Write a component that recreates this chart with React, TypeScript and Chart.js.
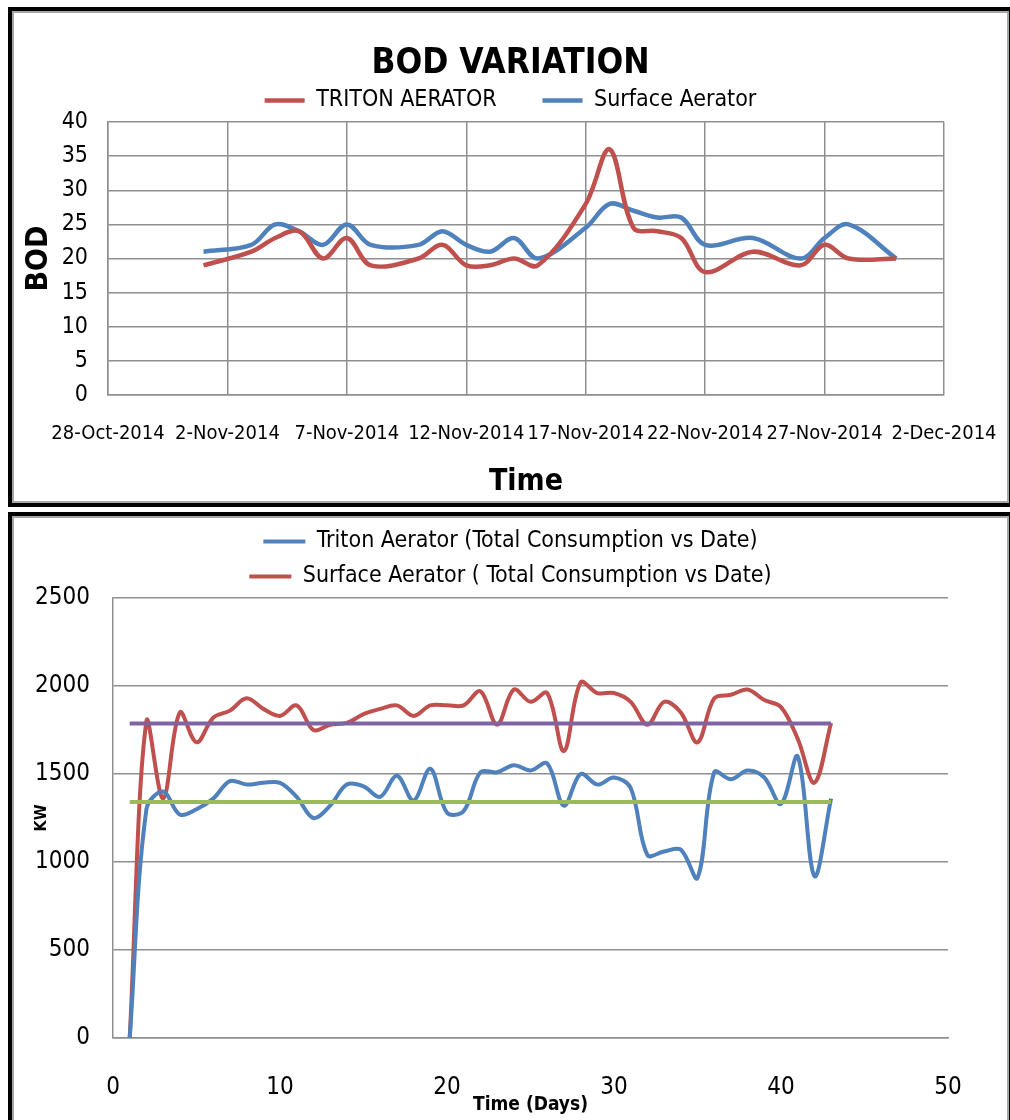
import React, { useEffect, useRef } from 'react';
import { Chart, registerables } from 'chart.js';

Chart.register(...registerables);

const FONT = "'Liberation Sans Narrow', 'DejaVu Sans Condensed', 'Arial Narrow', sans-serif";
const RED = '#C0504D';
const BLUE = '#4F81BD';
const PURPLE = '#8064A2';
const GREEN = '#9BBB59';
const GRID = '#8f8f8f';

// ---------- Chart 1: BOD variation ----------
const bodAxisStart = '2014-10-28';
const bodAxisEnd = '2014-12-02';
const bodTickStepDays = 5;
const monthNames = ['Jan', 'Feb', 'Mar', 'Apr', 'May', 'Jun', 'Jul', 'Aug', 'Sep', 'Oct', 'Nov', 'Dec'];

const bodDates = [
  '2014-11-01', '2014-11-03', '2014-11-04', '2014-11-05', '2014-11-06', '2014-11-07',
  '2014-11-08', '2014-11-10', '2014-11-11', '2014-11-12', '2014-11-13', '2014-11-14',
  '2014-11-15', '2014-11-17', '2014-11-18', '2014-11-19', '2014-11-20', '2014-11-21',
  '2014-11-22', '2014-11-24', '2014-11-26', '2014-11-27', '2014-11-28', '2014-11-30',
];
const tritonBod = [19, 21, 23, 24, 20, 23, 19, 20, 22, 19, 19, 20, 19, 28, 36, 24.5, 24, 23, 18, 21, 19, 22, 20, 20];
const surfaceBod = [21, 22, 25, 24, 22, 25, 22, 22, 24, 22, 21, 23, 20, 24.5, 28, 27, 26, 26, 22, 23, 20, 23, 25, 20];

// ---------- Chart 2: total consumption ----------
const dayNumbers = [
  1, 2, 3, 4, 5, 6, 7, 8, 9, 10, 11, 12, 13, 14, 15, 16, 17, 18, 19, 20, 21, 22,
  23, 24, 25, 26, 27, 28, 29, 30, 31, 32, 33, 34, 35, 36, 37, 38, 39, 40, 41, 42, 43,
];
const tritonKw = [
  0, 1300, 1400, 1270, 1300, 1360, 1460, 1440, 1450, 1450, 1370, 1250, 1320, 1440, 1430,
  1370, 1490, 1350, 1530, 1280, 1290, 1510, 1510, 1550, 1520, 1560, 1320, 1500, 1440, 1480,
  1420, 1040, 1060, 1070, 910, 1510, 1470, 1520, 1480, 1330, 1600, 920, 1360,
];
const surfaceKw = [
  0, 1800, 1360, 1850, 1680, 1820, 1860, 1930, 1870, 1830, 1890, 1750, 1780, 1790, 1840,
  1870, 1890, 1830, 1890, 1890, 1890, 1970, 1780, 1980, 1910, 1960, 1630, 2020, 1960, 1960,
  1910, 1780, 1910, 1850, 1680, 1930, 1950, 1980, 1920, 1880, 1700, 1450, 1790,
];
const surfaceAverage = 1787;
const tritonAverage = 1341;

const dayMs = 86400000;
const toUtc = (s: string) => new Date(s + 'T00:00:00Z').getTime();
const dayOffset = (s: string) => Math.round((toUtc(s) - toUtc(bodAxisStart)) / dayMs);
const fmtDate = (offset: number) => {
  const d = new Date(toUtc(bodAxisStart) + offset * dayMs);
  return `${d.getUTCDate()}-${monthNames[d.getUTCMonth()]}-${d.getUTCFullYear()}`;
};

function BodChart() {
  const ref = useRef<HTMLCanvasElement | null>(null);
  useEffect(() => {
    if (!ref.current) return;
    const chart = new Chart(ref.current, {
      type: 'line',
      data: {
        datasets: [
          {
            label: 'TRITON AERATOR',
            data: bodDates.map((d, i) => ({ x: dayOffset(d), y: tritonBod[i] })),
            borderColor: RED,
            backgroundColor: RED,
            borderWidth: 4.5,
            pointRadius: 0,
            tension: 0.35,
            fill: false,
          },
          {
            label: 'Surface Aerator',
            data: bodDates.map((d, i) => ({ x: dayOffset(d), y: surfaceBod[i] })),
            borderColor: BLUE,
            backgroundColor: BLUE,
            borderWidth: 4.5,
            pointRadius: 0,
            tension: 0.35,
            fill: false,
          },
        ],
      },
      options: {
        responsive: false,
        animation: false,
        layout: { padding: 0 },
        plugins: {
          tooltip: { enabled: false },
          title: {
            display: true,
            text: 'BOD VARIATION',
            color: '#000',
            font: { family: FONT, size: 35, weight: 'bold' },
            padding: { top: 21, bottom: -42 },
          },
          legend: {
            display: true,
            position: 'top',
            labels: {
              usePointStyle: true,
              pointStyle: 'line',
              pointStyleWidth: 40,
              padding: 46,
              color: '#000',
              font: { family: FONT, size: 23 },
            },
          },
        },
        scales: {
          x: {
            type: 'linear',
            min: 0,
            max: dayOffset(bodAxisEnd),
            ticks: {
              stepSize: bodTickStepDays,
              autoSkip: false,
              maxRotation: 0,
              minRotation: 0,
              padding: 27,
              color: '#000',
              font: { family: FONT, size: 20 },
              callback: (v: any) => fmtDate(Number(v)),
            },
            grid: { color: GRID, lineWidth: 1.5, drawTicks: false },
            border: { color: GRID, width: 1.5 },
            title: {
              display: true,
              text: 'Time',
              color: '#000',
              font: { family: FONT, size: 30, weight: 'bold' },
              padding: { top: 0, bottom: 1 },
            },
            afterFit: (s: any) => {
              s.height = 106;
              s.paddingLeft = 0;
              s.paddingRight = 63;
            },
          },
          y: {
            min: 0,
            max: 40,
            ticks: {
              stepSize: 5,
              padding: 20,
              color: '#000',
              font: { family: FONT, size: 23 },
            },
            grid: { color: GRID, lineWidth: 1.5, drawTicks: false },
            border: { color: GRID, width: 1.5 },
            title: {
              display: true,
              text: 'BOD',
              color: '#000',
              font: { family: FONT, size: 30, weight: 'bold' },
              padding: { top: 7, bottom: 0 },
            },
            afterFit: (s: any) => {
              s.width = 94;
              s.paddingTop = 109;
              s.paddingBottom = 0;
            },
          },
        },
      } as any,
    });
    return () => chart.destroy();
  }, []);
  return (
    <canvas
      ref={ref}
      width={993}
      height={488}
      style={{ position: 'absolute', left: 14, top: 13, width: 993, height: 488, display: 'block' }}
    />
  );
}

function KwChart() {
  const ref = useRef<HTMLCanvasElement | null>(null);
  useEffect(() => {
    if (!ref.current) return;
    const chart = new Chart(ref.current, {
      type: 'line',
      data: {
        datasets: [
          {
            label: 'Triton Aerator (Total Consumption vs Date)',
            data: dayNumbers.map((d, i) => ({ x: d, y: tritonKw[i] })),
            borderColor: BLUE,
            backgroundColor: BLUE,
            borderWidth: 4,
            pointRadius: 0,
            tension: 0.35,
            fill: false,
            order: 1,
          },
          {
            label: 'Surface Aerator ( Total Consumption vs Date)',
            data: dayNumbers.map((d, i) => ({ x: d, y: surfaceKw[i] })),
            borderColor: RED,
            backgroundColor: RED,
            borderWidth: 4,
            pointRadius: 0,
            tension: 0.35,
            fill: false,
            order: 1,
          },
          {
            label: 'Surface average',
            data: [
              { x: dayNumbers[0], y: surfaceAverage },
              { x: dayNumbers[dayNumbers.length - 1], y: surfaceAverage },
            ],
            borderColor: PURPLE,
            backgroundColor: PURPLE,
            borderWidth: 4,
            pointRadius: 0,
            fill: false,
            order: 0,
          },
          {
            label: 'Triton average',
            data: [
              { x: dayNumbers[0], y: tritonAverage },
              { x: dayNumbers[dayNumbers.length - 1], y: tritonAverage },
            ],
            borderColor: GREEN,
            backgroundColor: GREEN,
            borderWidth: 4,
            pointRadius: 0,
            fill: false,
            order: 0,
          },
        ],
      },
      options: {
        responsive: false,
        animation: false,
        layout: { padding: 0 },
        plugins: {
          tooltip: { enabled: false },
          title: { display: false },
          legend: {
            display: true,
            position: 'top',
            maxHeight: 80,
            labels: {
              usePointStyle: true,
              pointStyle: 'line',
              pointStyleWidth: 42,
              padding: 12,
              color: '#000',
              font: { family: FONT, size: 23 },
              filter: (item: any) => item.datasetIndex < 2,
            },
          },
        },
        scales: {
          x: {
            type: 'linear',
            min: 0,
            max: 50,
            ticks: {
              stepSize: 10,
              maxRotation: 0,
              minRotation: 0,
              padding: 35,
              color: '#000',
              font: { family: FONT, size: 24 },
            },
            grid: { display: false, drawTicks: false },
            border: { color: GRID, width: 1.5 },
            title: {
              display: true,
              text: 'Time (Days)',
              color: '#000',
              font: { family: FONT, size: 19, weight: 'bold' },
              padding: { top: 0, bottom: 4 },
            },
            afterFit: (s: any) => {
              s.height = 82;
              s.paddingLeft = 0;
              s.paddingRight = 59;
            },
          },
          y: {
            min: 0,
            max: 2500,
            ticks: {
              stepSize: 500,
              padding: 23,
              color: '#000',
              font: { family: FONT, size: 24 },
              callback: (v: any) => String(v),
            },
            grid: { color: GRID, lineWidth: 1.5, drawTicks: false },
            border: { color: GRID, width: 1.5 },
            title: {
              display: true,
              text: 'KW',
              color: '#000',
              font: { family: FONT, size: 16, weight: 'bold' },
              padding: { top: 18, bottom: 0 },
            },
            afterFit: (s: any) => {
              s.width = 99;
              s.paddingTop = 80;
              s.paddingBottom = 0;
            },
          },
        },
      } as any,
    });
    return () => chart.destroy();
  }, []);
  return (
    <canvas
      ref={ref}
      width={993}
      height={602}
      style={{ position: 'absolute', left: 14, top: 518, width: 993, height: 602, display: 'block' }}
    />
  );
}

const frameOuter = (top: number, height: number): React.CSSProperties => ({
  position: 'absolute',
  left: 8,
  top,
  width: 1005,
  height,
  border: '4px solid #000',
  boxSizing: 'border-box',
});
const frameInner: React.CSSProperties = {
  position: 'absolute',
  left: 0,
  top: 0,
  right: 0,
  bottom: 0,
  border: '2px solid #a6a6a6',
  boxSizing: 'border-box',
};

export default function App() {
  return (
    <div
      style={{
        position: 'absolute',
        left: 0,
        top: 0,
        width: 1010,
        height: 1120,
        overflow: 'hidden',
        background: '#fff',
      }}
    >
      <div style={frameOuter(7, 500)}>
        <div style={frameInner} />
      </div>
      <div style={frameOuter(512, 630)}>
        <div style={frameInner} />
      </div>
      <BodChart />
      <KwChart />
    </div>
  );
}
